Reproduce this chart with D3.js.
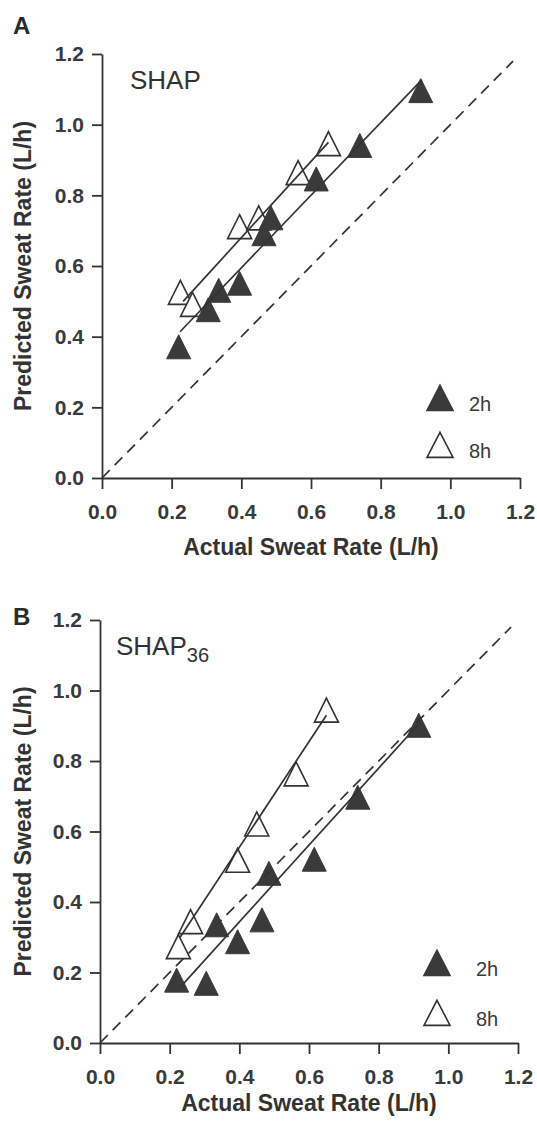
<!DOCTYPE html>
<html>
<head>
<meta charset="utf-8">
<script src="https://cdn.jsdelivr.net/npm/d3@7"></script>
<style>
  html, body { margin: 0; padding: 0; background: #fff; }
  svg { display: block; }
  text { font-family: "Liberation Sans", Arial, Helvetica, sans-serif; }
</style>
</head>
<body>
<svg id="chart" width="537" height="1123"></svg>
<script>
// ---------------- data ----------------
const xTicks = [0.0, 0.2, 0.4, 0.6, 0.8, 1.0, 1.2];
const yTicks = [0.0, 0.2, 0.4, 0.6, 0.8, 1.0, 1.2];
const tickFormat = d => d.toFixed(1);

const seriesNames = ["2h", "8h"];

// actual sweat rate (L/h), shared by both panels
const actual2h = [0.22, 0.305, 0.335, 0.395, 0.465, 0.485, 0.615, 0.74, 0.915];
const actual8h = [0.225, 0.26, 0.395, 0.45, 0.563, 0.65];

// Panel A: SHAP predictions
const predA2h = [0.36, 0.465, 0.52, 0.54, 0.68, 0.725, 0.835, 0.93, 1.085];
const predA8h = [0.514, 0.48, 0.70, 0.725, 0.853, 0.935];
// Panel B: SHAP36 predictions
const predB2h = [0.167, 0.158, 0.324, 0.276, 0.338, 0.47, 0.51, 0.686, 0.89];
const predB8h = [0.262, 0.333, 0.507, 0.61, 0.752, 0.933];

// regression line end points [x, y]
const fitA2h = [[0.224, 0.414], [0.918, 1.127]];
const fitA8h = [[0.233, 0.50], [0.65, 0.95]];
const fitB2h = [[0.23, 0.158], [0.915, 0.905]];
const fitB8h = [[0.23, 0.30], [0.65, 0.93]];
// line of identity
const identity = [[0.0, 0.0], [1.18, 1.18]];

// ---------------- drawing ----------------
const svg = d3.select("#chart");
const ink = "#333";

function triPath(w, h) {
  // centroid-centered triangle, apex up
  return `M0,${-2*h/3}L${w/2},${h/3}L${-w/2},${h/3}Z`;
}

const panels = [
  { letter: "A", label: "SHAP", sub: null,
    xr: [102, 520], yr: [478, 54],
    p2h: predA2h, p8h: predA8h, f2h: fitA2h, f8h: fitA8h,
    letterPos: [13, 34], labelPos: [130, 89],
    legend: [[440, 402], [440, 449]], legendText: 469,
    xTitleY: 555 },
  { letter: "B", label: "SHAP", sub: "36",
    xr: [100, 518], yr: [1043, 620],
    p2h: predB2h, p8h: predB8h, f2h: fitB2h, f8h: fitB8h,
    letterPos: [13, 625], labelPos: [116, 655],
    legend: [[437, 967], [437, 1017]], legendText: 476,
    xTitleY: 1111 }
];

panels.forEach(p => {
  const x = d3.scaleLinear().domain([0, 1.2]).range(p.xr);
  const y = d3.scaleLinear().domain([0, 1.2]).range(p.yr);
  const g = svg.append("g");

  // axes
  const xAxis = d3.axisBottom(x).tickValues(xTicks).tickFormat(tickFormat)
    .tickSize(11).tickSizeOuter(0).tickPadding(15);
  const yAxis = d3.axisLeft(y).tickValues(yTicks).tickFormat(tickFormat)
    .tickSize(10).tickSizeOuter(0).tickPadding(8);

  const gx = g.append("g").attr("transform", `translate(0,${p.yr[0]})`).call(xAxis);
  const gy = g.append("g").attr("transform", `translate(${p.xr[0]},0)`).call(yAxis);
  [gx, gy].forEach(a => {
    a.select(".domain").attr("stroke", ink).attr("stroke-width", 1.8);
    a.selectAll(".tick line").attr("stroke", ink).attr("stroke-width", 1.8);
    a.selectAll(".tick text").attr("fill", "#3a3a3a")
      .style("font-size", "21px").style("font-weight", "bold")
      .style("font-family", '"Liberation Sans", Arial, sans-serif');
  });

  // markers: open first, then filled
  const tri = triPath(24, 24);
  g.append("g").selectAll("path.open").data(actual8h.map((a, i) => [a, p.p8h[i]]))
    .join("path").attr("class", "open")
    .attr("d", tri)
    .attr("transform", d => `translate(${x(d[0])},${y(d[1])})`)
    .attr("fill", "#fff").attr("stroke", ink).attr("stroke-width", 1.6);
  g.append("g").selectAll("path.filled").data(actual2h.map((a, i) => [a, p.p2h[i]]))
    .join("path").attr("class", "filled")
    .attr("d", tri)
    .attr("transform", d => `translate(${x(d[0])},${y(d[1])})`)
    .attr("fill", "#3a3a3a").attr("stroke", "#3a3a3a").attr("stroke-width", 1);

  // lines
  const line = d3.line().x(d => x(d[0])).y(d => y(d[1]));
  g.append("path").datum(identity).attr("d", line)
    .attr("fill", "none").attr("stroke", ink).attr("stroke-width", 1.7)
    .attr("stroke-dasharray", "11,7");
  [p.f2h, p.f8h].forEach(f => {
    g.append("path").datum(f).attr("d", line)
      .attr("fill", "none").attr("stroke", ink).attr("stroke-width", 1.7);
  });

  // legend
  const ltri = triPath(26, 25);
  seriesNames.forEach((s, i) => {
    const [lx, ly] = p.legend[i];
    g.append("path").attr("d", ltri).attr("transform", `translate(${lx},${ly})`)
      .attr("fill", i === 0 ? "#3a3a3a" : "#fff")
      .attr("stroke", i === 0 ? "#3a3a3a" : ink).attr("stroke-width", 1.6);
    g.append("text").attr("x", p.legendText).attr("y", ly + 4)
      .attr("dominant-baseline", "middle")
      .attr("fill", "#3a3a3a").style("font-size", "20px").text(s);
  });

  // panel label
  g.append("text").attr("x", p.letterPos[0]).attr("y", p.letterPos[1])
    .attr("fill", "#2a2a2a").style("font-size", "24px").style("font-weight", "bold")
    .text(p.letter);

  const lab = g.append("text").attr("x", p.labelPos[0]).attr("y", p.labelPos[1])
    .attr("fill", "#333").style("font-size", "26px").text(p.label);
  if (p.sub) {
    lab.append("tspan").attr("dy", 7).style("font-size", "20px").text(p.sub);
  }

  // axis titles
  g.append("text").attr("x", (p.xr[0] + p.xr[1]) / 2).attr("y", p.xTitleY)
    .attr("text-anchor", "middle").attr("fill", "#333")
    .style("font-size", "23px").style("font-weight", "bold")
    .text("Actual Sweat Rate (L/h)");
  g.append("text")
    .attr("transform", `translate(31,${(p.yr[0] + p.yr[1]) / 2}) rotate(-90)`)
    .attr("text-anchor", "middle").attr("fill", "#333")
    .style("font-size", "23px").style("font-weight", "bold")
    .text("Predicted Sweat Rate (L/h)");
});
</script>
</body>
</html>
